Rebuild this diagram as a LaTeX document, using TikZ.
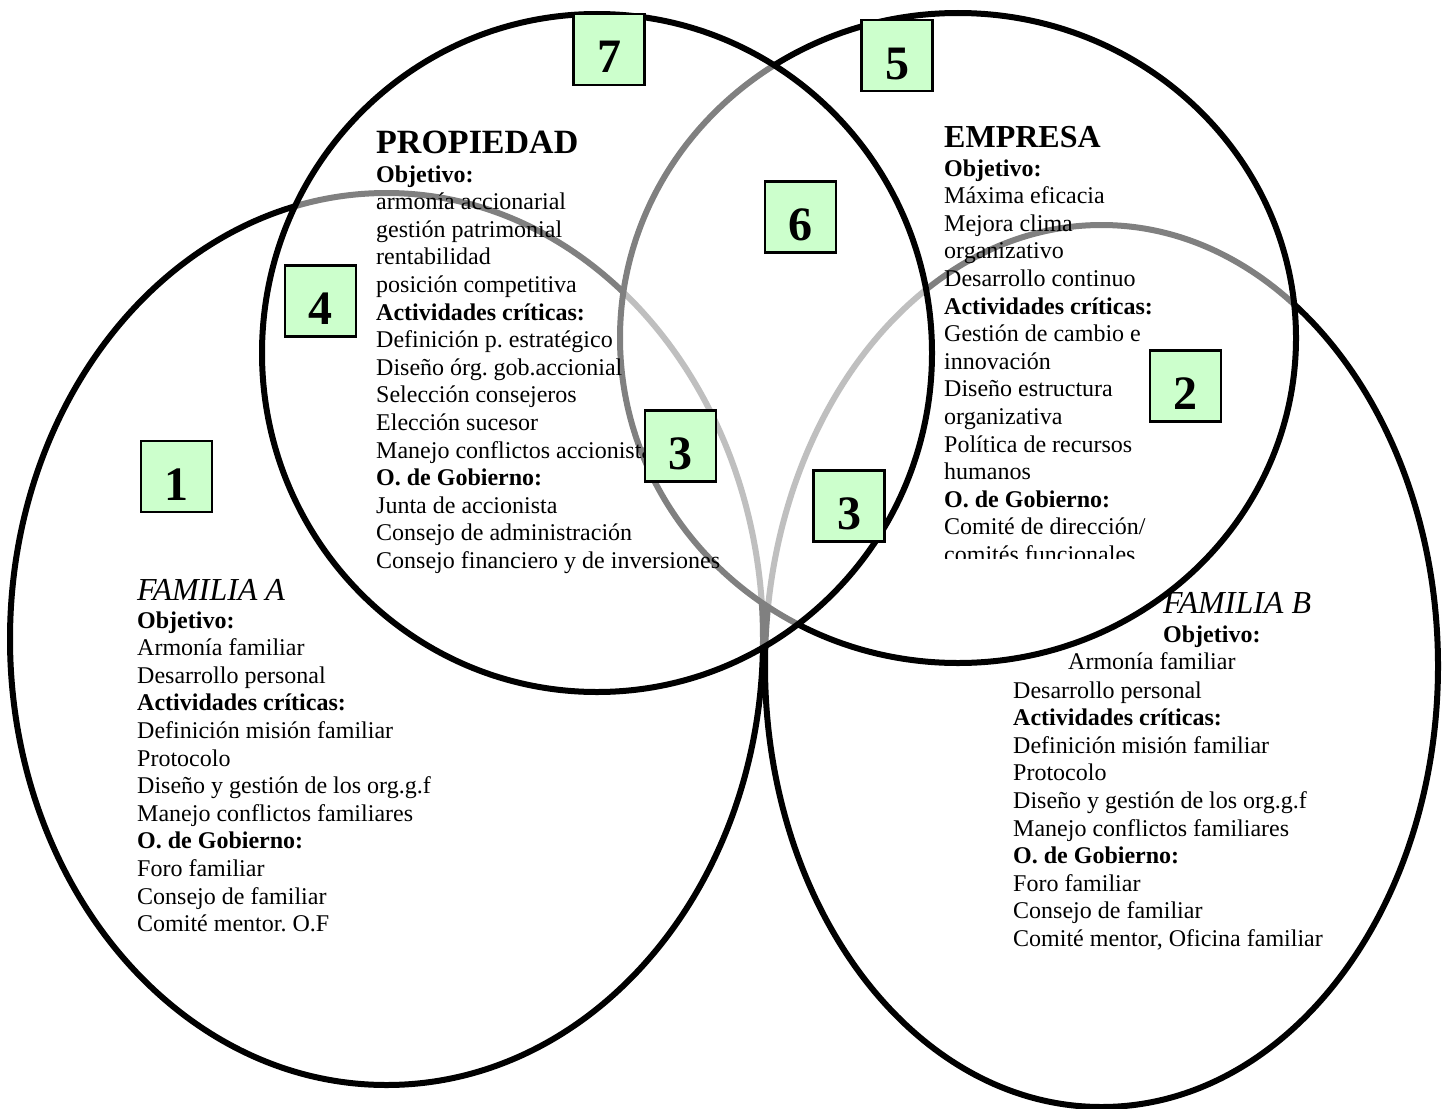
\documentclass[tikz,border=0pt]{standalone}
\usepackage{fontspec}
\setmainfont{Liberation Serif}
\definecolor{boxgreen}{HTML}{CCFFCC}
\frenchspacing
\newcommand\blocklines[1]{\parbox[t]{14cm}{\fontsize{24}{27.6}\selectfont\raggedright #1}}
\begin{document}
\begin{tikzpicture}[x=1pt,y=-1pt,
  ring/.style={draw=black, line width=6pt},
  lens/.style={draw=black, line width=6pt, fill=white, fill opacity=0.5},
  numbox/.style={draw=black, line width=2.2pt, fill=boxgreen,
    minimum width=71pt, minimum height=71pt, inner sep=0pt,
    font=\fontsize{48}{48}\selectfont\bfseries, text height=47pt, text depth=0pt},
  block/.style={anchor=base west, inner sep=0pt},
  heading/.style={anchor=base west, inner sep=0pt, font=\fontsize{#1}{#1}\selectfont\bfseries},
  famname/.style={anchor=base west, inner sep=0pt, font=\fontsize{32}{32}\selectfont\itshape},
]
\useasboundingbox (0,0) rectangle (1447,1108);

% family ellipses
\draw[ring] (386.5,639) ellipse [x radius=376.5pt, y radius=446pt];
\draw[ring] (1101.5,666) ellipse [x radius=336.5pt, y radius=441pt];

% business and ownership circles, half-transparent white fill
\draw[lens] (958,338) ellipse [x radius=338pt, y radius=325pt];
\draw[lens] (597,353) ellipse [x radius=335pt, y radius=339pt];

% ownership
\node[heading=34] (propTitle) at (376,153) {PROPIEDAD};
\node[block] (propTxt) at (376,182) {\blocklines{%
\textbf{Objetivo:}\\
armonía accionarial\\
gestión patrimonial\\
rentabilidad\\
posición competitiva\\
\textbf{Actividades críticas:}\\
Definición p. estratégico\\
Diseño órg. gob.accionial\\
Selección consejeros\\
Elección sucesor\\
Manejo conflictos accionista\\
\textbf{O. de Gobierno:}\\
Junta de accionista\\
Consejo de administración\\
Consejo financiero y de inversiones}};

% business
\node[heading=32] (empTitle) at (944,147) {EMPRESA};
\begin{scope}
\clip (930,150) rectangle (1250,558);
\node[block] (empTxt) at (944,176) {\blocklines{%
\textbf{Objetivo:}\\
Máxima eficacia\\
Mejora clima\\
organizativo\\
Desarrollo continuo\\
\textbf{Actividades críticas:}\\
Gestión de cambio e\\
innovación\\
Diseño estructura\\
organizativa\\
Política de recursos\\
humanos\\
\textbf{O. de Gobierno:}\\
Comité de dirección/\\
comités funcionales}};
\end{scope}

% family A
\node[famname] (famATitle) at (137,600) {FAMILIA A};
\node[block] (famATxt) at (137,628) {\blocklines{%
\textbf{Objetivo:}\\
Armonía familiar\\
Desarrollo personal\\
\textbf{Actividades críticas:}\\
Definición misión familiar\\
Protocolo\\
Diseño y gestión de los org.g.f\\
Manejo conflictos familiares\\
\textbf{O. de Gobierno:}\\
Foro familiar\\
Consejo de familiar\\
Comité mentor. O.F}};

% family B
\node[famname] (famBTitle) at (1163,613) {FAMILIA B};
\node[block, font=\fontsize{24}{24}\selectfont\bfseries] (famBObj) at (1163,642) {Objetivo:};
\node[block, font=\fontsize{24}{24}\selectfont] (famBArm) at (1068,669) {Armonía familiar};
\node[block] (famBTxt) at (1013,698) {\blocklines{%
Desarrollo personal\\
\textbf{Actividades críticas:}\\
Definición misión familiar\\
Protocolo\\
Diseño y gestión de los org.g.f\\
Manejo conflictos familiares\\
\textbf{O. de Gobierno:}\\
Foro familiar\\
Consejo de familiar\\
Comité mentor, Oficina familiar}};

% numbered region markers
\node[numbox] (n7) at (609,49.5) {7};
\node[numbox] (n5) at (897,55.5) {5};
\node[numbox] (n6) at (800.5,217) {6};
\node[numbox] (n4) at (320.5,301) {4};
\node[numbox] (n3a) at (680.5,446) {3};
\node[numbox] (n2) at (1185.5,386) {2};
\node[numbox] (n3b) at (849,506) {3};
\node[numbox] (n1) at (176.5,476.5) {1};
\end{tikzpicture}
\end{document}
